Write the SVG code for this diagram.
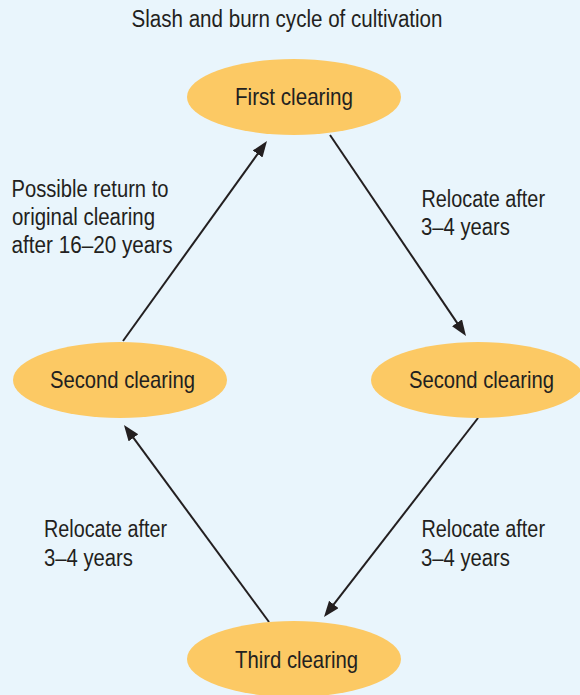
<svg xmlns="http://www.w3.org/2000/svg" width="580" height="695" viewBox="0 0 580 695">
  <defs>
    <style>
      .bg { fill: #e9f5fc; }
      .node ellipse { fill: #fcc964; }
      text { font-family: "Liberation Sans", Arial, sans-serif; fill: #231f20; }
      .title { font-size: 23px; }
      .nlabel { font-size: 24px; }
      .label { font-size: 23px; }
      .edge { stroke: #231f20; stroke-width: 2; fill: none; marker-end: url(#arrow); }
    </style>
    <marker id="arrow" markerUnits="userSpaceOnUse" markerWidth="18" markerHeight="14" refX="8" refY="6" orient="auto">
      <path d="M0,0 L16,6 L0,12 Z" fill="#231f20"/>
    </marker>
  </defs>

  <rect class="bg" x="0" y="0" width="580" height="695"/>

  <text class="title" x="131.5" y="27" textLength="311" lengthAdjust="spacingAndGlyphs">Slash and burn cycle of cultivation</text>

  <!-- connectors -->
  <g id="connectors">
    <path class="edge" d="M330,135 L461.5,329.4"/>
    <path class="edge" d="M478,418 L328.9,610.7"/>
    <path class="edge" d="M269,622 L128.7,431.4"/>
    <path class="edge" d="M123,341 L262.3,147.5"/>
  </g>

  <!-- nodes -->
  <g id="first-clearing" class="node">
    <ellipse cx="294" cy="97" rx="107" ry="38"/>
    <text class="nlabel" x="235" y="105" textLength="118" lengthAdjust="spacingAndGlyphs">First clearing</text>
  </g>
  <g id="second-clearing-left" class="node">
    <ellipse cx="120" cy="380" rx="107" ry="38"/>
    <text class="nlabel" x="50" y="387.5" textLength="145" lengthAdjust="spacingAndGlyphs">Second clearing</text>
  </g>
  <g id="second-clearing-right" class="node">
    <ellipse cx="478" cy="380" rx="107" ry="38"/>
    <text class="nlabel" x="409" y="388" textLength="145" lengthAdjust="spacingAndGlyphs">Second clearing</text>
  </g>
  <g id="third-clearing" class="node">
    <ellipse cx="294" cy="659" rx="107" ry="38"/>
    <text class="nlabel" x="235" y="668" textLength="123" lengthAdjust="spacingAndGlyphs">Third clearing</text>
  </g>

  <!-- edge labels -->
  <g id="label-return">
    <text class="label" x="11.5" y="197" textLength="157" lengthAdjust="spacingAndGlyphs">Possible return to</text>
    <text class="label" x="12" y="225" textLength="143" lengthAdjust="spacingAndGlyphs">original clearing</text>
    <text class="label" x="11.5" y="253" textLength="161" lengthAdjust="spacingAndGlyphs">after 16–20 years</text>
  </g>
  <g id="label-relocate-1">
    <text class="label" x="421.5" y="207" textLength="123.5" lengthAdjust="spacingAndGlyphs">Relocate after</text>
    <text class="label" x="421" y="235" textLength="89" lengthAdjust="spacingAndGlyphs">3–4 years</text>
  </g>
  <g id="label-relocate-2">
    <text class="label" x="421.5" y="537" textLength="123.5" lengthAdjust="spacingAndGlyphs">Relocate after</text>
    <text class="label" x="421" y="565.5" textLength="89" lengthAdjust="spacingAndGlyphs">3–4 years</text>
  </g>
  <g id="label-relocate-3">
    <text class="label" x="44" y="537" textLength="123" lengthAdjust="spacingAndGlyphs">Relocate after</text>
    <text class="label" x="44" y="565.5" textLength="89" lengthAdjust="spacingAndGlyphs">3–4 years</text>
  </g>
</svg>
